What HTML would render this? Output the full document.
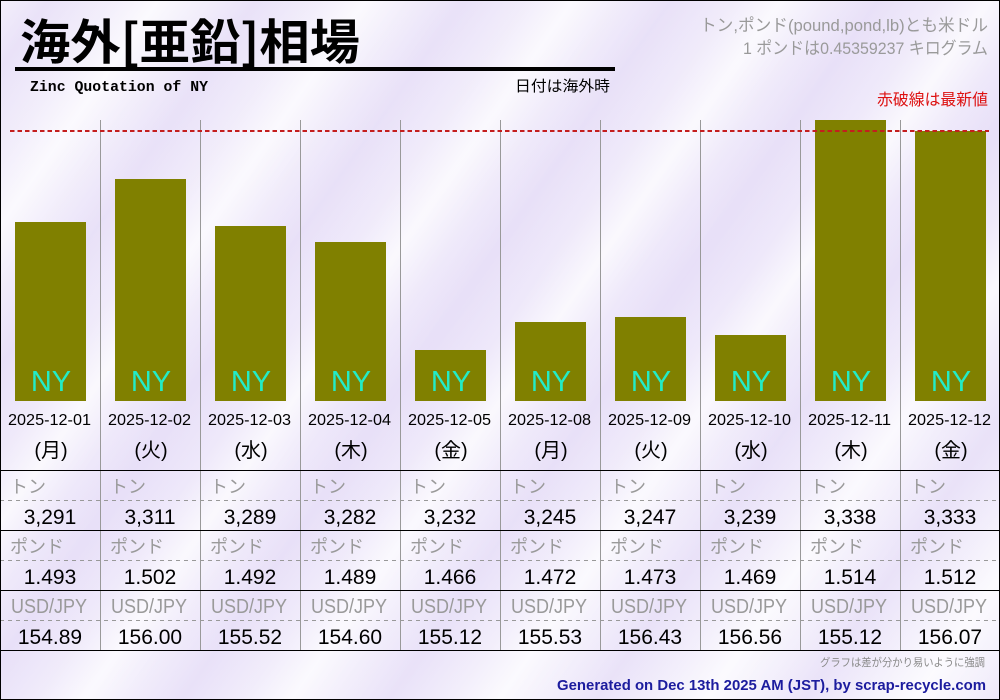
<!DOCTYPE html>
<html><head><meta charset="utf-8">
<style>
html,body{margin:0;padding:0;background:#fff;}
#w{position:relative;width:1000px;height:700px;overflow:hidden;
background:
 repeating-linear-gradient(125deg, rgba(255,255,255,0) 0px, rgba(226,216,246,0.55) 40px, rgba(255,255,255,0) 90px, rgba(255,255,255,0.7) 130px, rgba(255,255,255,0) 170px),
 linear-gradient(160deg,#f3effb,#eee8fa 50%,#f5f2fc);}
svg{position:absolute;left:0;top:0;}
.jp{font-family:"Liberation Sans","Noto Sans CJK JP",sans-serif;}
</style></head><body>
<div id="w">
<svg width="1000" height="700" viewBox="0 0 1000 700" xmlns="http://www.w3.org/2000/svg">
<!-- title -->
<text x="20" y="59" font-family="'Noto Sans CJK JP',sans-serif" font-weight="bold" font-size="48" fill="#000" textLength="340" lengthAdjust="spacingAndGlyphs">海外[亜鉛]相場</text>
<rect x="15" y="67" width="600" height="4" fill="#000"/>
<text x="30" y="91" font-family="'Liberation Mono',monospace" font-weight="bold" font-size="15" fill="#000" textLength="178" lengthAdjust="spacingAndGlyphs">Zinc Quotation of NY</text>
<text x="515" y="91" class="jp" font-size="15" fill="#000" textLength="95" lengthAdjust="spacingAndGlyphs">日付は海外時</text>
<text x="700" y="31" class="jp" font-size="17" fill="#9a9a9a" textLength="288" lengthAdjust="spacingAndGlyphs">トン,ポンド(pound,pond,lb)とも米ドル</text>
<text x="743" y="54" class="jp" font-size="17" fill="#9a9a9a" textLength="245" lengthAdjust="spacingAndGlyphs">1 ポンドは0.45359237 キログラム</text>
<text x="877" y="105" class="jp" font-size="16" fill="#dd1111" textLength="111" lengthAdjust="spacingAndGlyphs">赤破線は最新値</text>

<!-- vertical separators -->
<g stroke="#999" stroke-width="1">
<line x1="100.5" y1="120" x2="100.5" y2="650"/>
<line x1="200.5" y1="120" x2="200.5" y2="650"/>
<line x1="300.5" y1="120" x2="300.5" y2="650"/>
<line x1="400.5" y1="120" x2="400.5" y2="650"/>
<line x1="500.5" y1="120" x2="500.5" y2="650"/>
<line x1="600.5" y1="120" x2="600.5" y2="650"/>
<line x1="700.5" y1="120" x2="700.5" y2="650"/>
<line x1="800.5" y1="120" x2="800.5" y2="650"/>
<line x1="900.5" y1="120" x2="900.5" y2="650"/>
</g>

<!-- bars -->
<g fill="#808000">
<rect x="15" y="222" width="71" height="179"/>
<rect x="115" y="179" width="71" height="222"/>
<rect x="215" y="226" width="71" height="175"/>
<rect x="315" y="242" width="71" height="159"/>
<rect x="415" y="350" width="71" height="51"/>
<rect x="515" y="322" width="71" height="79"/>
<rect x="615" y="317" width="71" height="84"/>
<rect x="715" y="335" width="71" height="66"/>
<rect x="815" y="120" width="71" height="281"/>
<rect x="915" y="131" width="71" height="270"/>
</g>
<line x1="10" y1="131" x2="989" y2="131" stroke="#c41e1e" stroke-width="2" stroke-dasharray="4.5,3"/>

<g class="jp" font-size="29" fill="#22ecc8" text-anchor="middle">
<text x="51" y="391">NY</text><text x="151" y="391">NY</text><text x="251" y="391">NY</text><text x="351" y="391">NY</text><text x="451" y="391">NY</text>
<text x="551" y="391">NY</text><text x="651" y="391">NY</text><text x="751" y="391">NY</text><text x="851" y="391">NY</text><text x="951" y="391">NY</text>
</g>

<!-- dates -->
<g class="jp" font-size="16" fill="#000">
<text x="8" y="425" textLength="83" lengthAdjust="spacingAndGlyphs">2025-12-01</text>
<text x="108" y="425" textLength="83" lengthAdjust="spacingAndGlyphs">2025-12-02</text>
<text x="208" y="425" textLength="83" lengthAdjust="spacingAndGlyphs">2025-12-03</text>
<text x="308" y="425" textLength="83" lengthAdjust="spacingAndGlyphs">2025-12-04</text>
<text x="408" y="425" textLength="83" lengthAdjust="spacingAndGlyphs">2025-12-05</text>
<text x="508" y="425" textLength="83" lengthAdjust="spacingAndGlyphs">2025-12-08</text>
<text x="608" y="425" textLength="83" lengthAdjust="spacingAndGlyphs">2025-12-09</text>
<text x="708" y="425" textLength="83" lengthAdjust="spacingAndGlyphs">2025-12-10</text>
<text x="808" y="425" textLength="83" lengthAdjust="spacingAndGlyphs">2025-12-11</text>
<text x="908" y="425" textLength="83" lengthAdjust="spacingAndGlyphs">2025-12-12</text>
</g>
<g class="jp" font-size="20" fill="#000" text-anchor="middle">
<text x="51" y="457">(月)</text><text x="151" y="457">(火)</text><text x="251" y="457">(水)</text><text x="351" y="457">(木)</text><text x="451" y="457">(金)</text>
<text x="551" y="457">(月)</text><text x="651" y="457">(火)</text><text x="751" y="457">(水)</text><text x="851" y="457">(木)</text><text x="951" y="457">(金)</text>
</g>

<!-- table lines -->
<g stroke="#000" stroke-width="1">
<line x1="0" y1="470.5" x2="1000" y2="470.5"/>
<line x1="0" y1="530.5" x2="1000" y2="530.5"/>
<line x1="0" y1="590.5" x2="1000" y2="590.5"/>
<line x1="0" y1="650.5" x2="1000" y2="650.5"/>
</g>
<g stroke="#999" stroke-width="1" stroke-dasharray="4,4">
<line x1="0" y1="500.5" x2="1000" y2="500.5"/>
<line x1="0" y1="560.5" x2="1000" y2="560.5"/>
<line x1="0" y1="620.5" x2="1000" y2="620.5"/>
</g>

<!-- row labels -->
<g class="jp" font-size="18" fill="#9a9a9a">
<text x="10" y="493">トン</text><text x="110" y="493">トン</text><text x="210" y="493">トン</text><text x="310" y="493">トン</text><text x="410" y="493">トン</text>
<text x="510" y="493">トン</text><text x="610" y="493">トン</text><text x="710" y="493">トン</text><text x="810" y="493">トン</text><text x="910" y="493">トン</text>
<text x="10" y="553">ポンド</text><text x="110" y="553">ポンド</text><text x="210" y="553">ポンド</text><text x="310" y="553">ポンド</text><text x="410" y="553">ポンド</text>
<text x="510" y="553">ポンド</text><text x="610" y="553">ポンド</text><text x="710" y="553">ポンド</text><text x="810" y="553">ポンド</text><text x="910" y="553">ポンド</text>
</g>
<g class="jp" font-size="20" fill="#9a9a9a">
<text x="11" y="613" textLength="76" lengthAdjust="spacingAndGlyphs">USD/JPY</text>
<text x="111" y="613" textLength="76" lengthAdjust="spacingAndGlyphs">USD/JPY</text>
<text x="211" y="613" textLength="76" lengthAdjust="spacingAndGlyphs">USD/JPY</text>
<text x="311" y="613" textLength="76" lengthAdjust="spacingAndGlyphs">USD/JPY</text>
<text x="411" y="613" textLength="76" lengthAdjust="spacingAndGlyphs">USD/JPY</text>
<text x="511" y="613" textLength="76" lengthAdjust="spacingAndGlyphs">USD/JPY</text>
<text x="611" y="613" textLength="76" lengthAdjust="spacingAndGlyphs">USD/JPY</text>
<text x="711" y="613" textLength="76" lengthAdjust="spacingAndGlyphs">USD/JPY</text>
<text x="811" y="613" textLength="76" lengthAdjust="spacingAndGlyphs">USD/JPY</text>
<text x="911" y="613" textLength="76" lengthAdjust="spacingAndGlyphs">USD/JPY</text>
</g>

<!-- values -->
<g class="jp" font-size="21" fill="#000" text-anchor="middle">
<text x="50" y="524">3,291</text><text x="150" y="524">3,311</text><text x="250" y="524">3,289</text><text x="350" y="524">3,282</text><text x="450" y="524">3,232</text>
<text x="550" y="524">3,245</text><text x="650" y="524">3,247</text><text x="750" y="524">3,239</text><text x="850" y="524">3,338</text><text x="950" y="524">3,333</text>
<text x="50" y="584">1.493</text><text x="150" y="584">1.502</text><text x="250" y="584">1.492</text><text x="350" y="584">1.489</text><text x="450" y="584">1.466</text>
<text x="550" y="584">1.472</text><text x="650" y="584">1.473</text><text x="750" y="584">1.469</text><text x="850" y="584">1.514</text><text x="950" y="584">1.512</text>
<text x="50" y="644">154.89</text><text x="150" y="644">156.00</text><text x="250" y="644">155.52</text><text x="350" y="644">154.60</text><text x="450" y="644">155.12</text>
<text x="550" y="644">155.53</text><text x="650" y="644">156.43</text><text x="750" y="644">156.56</text><text x="850" y="644">155.12</text><text x="950" y="644">156.07</text>
</g>

<!-- footer -->
<text x="820" y="666" class="jp" font-size="11" fill="#8a8a8a" textLength="165" lengthAdjust="spacingAndGlyphs">グラフは差が分かり易いように強調</text>
<text x="557" y="690" font-family="'Liberation Sans',sans-serif" font-weight="bold" font-size="15" fill="#1c1c9e" textLength="429" lengthAdjust="spacingAndGlyphs">Generated on Dec 13th 2025 AM (JST), by scrap-recycle.com</text>

<rect x="0.5" y="0.5" width="999" height="699" fill="none" stroke="#000" stroke-width="1"/>
</svg>
</div>
</body></html>
